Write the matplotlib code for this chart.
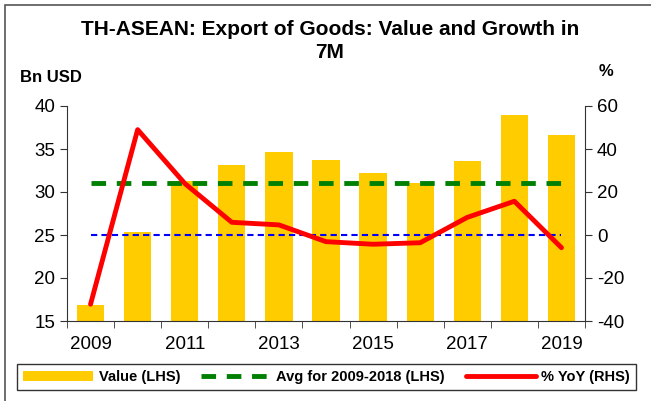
import matplotlib
matplotlib.use("Agg")
import matplotlib.pyplot as plt
from matplotlib.patches import Rectangle
import numpy as np

plt.rcParams['font.family'] = ['Liberation Sans', 'DejaVu Sans']
plt.rcParams['axes.unicode_minus'] = False

years = [2009, 2010, 2011, 2012, 2013, 2014, 2015, 2016, 2017, 2018, 2019]
value_bn = [16.9, 25.3, 31.3, 33.1, 34.7, 33.7, 32.2, 31.1, 33.6, 38.9, 36.6]
yoy_pct = [-32.2, 49.0, 24.0, 5.9, 4.7, -3.1, -4.3, -3.6, 8.2, 15.7, -5.9]
avg_2009_2018 = 31.1
tick_labels = ['2009', '', '2011', '', '2013', '', '2015', '', '2017', '', '2019']

fig = plt.figure(figsize=(6.51, 4.01), dpi=100)
# outer frame
fig.patches.append(Rectangle((5/651, -0.1), 1.2, 1 - 5/401 + 0.1, transform=fig.transFigure,
                             fill=False, edgecolor='#555555', lw=1.2, zorder=0))

ax = fig.add_axes([67/651, 1 - 321/401, (585 - 67)/651, (321 - 106)/401])
x = np.arange(len(years))
ax.bar(x, value_bn, width=0.58, color='#FFCC00', zorder=1, label='Value (LHS)')
ax.plot([x[0], x[-1]], [avg_2009_2018, avg_2009_2018], color='#008000', lw=3.5,
        dashes=(3, 2.2), zorder=3, label='Avg for 2009-2018 (LHS)')
ax.set_xlim(-0.5, len(years) - 0.5)
ax.set_ylim(15, 40)
ax.set_yticks([15, 20, 25, 30, 35, 40])
ax.set_xticks(x)
ax.set_xticklabels(tick_labels)
ax.set_xticks(np.arange(-0.5, len(years)), minor=True)
ax.tick_params(axis='x', which='major', length=0, labelsize=13.5, pad=11)
ax.tick_params(axis='x', which='minor', length=5, direction='out', color='#333333')
ax.tick_params(axis='y', length=5, direction='out', labelsize=13.5, color='#333333')
ax.spines['top'].set_visible(False)
ax.spines['right'].set_visible(False)
for s in ['left', 'bottom']:
    ax.spines[s].set_color('#333333')

ax2 = ax.twinx()
ax2.set_ylim(-40, 60)
ax2.set_yticks([-40, -20, 0, 20, 40, 60])
ax2.plot([x[0], x[-1]], [0, 0], color='#0000FF', lw=1.5, dashes=(3, 2), zorder=2)
ax2.plot(x, yoy_pct, color='#FF0000', lw=3.5, zorder=4, label='% YoY (RHS)', solid_capstyle='round')
ax2.tick_params(axis='y', length=5, direction='out', labelsize=13.5, color='#333333')
ax2.spines['top'].set_visible(False)
ax2.spines['left'].set_visible(False)
ax2.spines['bottom'].set_visible(False)
ax2.spines['right'].set_color('#333333')

fig.text(330/651, 1 - 41/401, 'TH-ASEAN: Export of Goods: Value and Growth in\n7M',
         ha='center', va='center', fontsize=15, fontweight='bold', linespacing=1.3)
fig.text(20/651, 1 - 78/401, 'Bn USD', ha='left', va='center', fontsize=12, fontweight='bold')
fig.text(606/651, 1 - 72/401, '%', ha='center', va='center', fontsize=12, fontweight='bold')

h1, l1 = ax.get_legend_handles_labels()
h2, l2 = ax2.get_legend_handles_labels()
handles = [h1[l1.index('Value (LHS)')], h1[l1.index('Avg for 2009-2018 (LHS)')], h2[0]]
labels = ['Value (LHS)', 'Avg for 2009-2018 (LHS)', '% YoY (RHS)']
leg = fig.legend(handles, labels, loc='lower left',
                 bbox_to_anchor=(17/651, 1 - 390/401, (636 - 17)/651, 28/401),
                 mode='expand', ncol=3, fancybox=False, framealpha=1,
                 edgecolor='#333333', prop={'weight': 'bold', 'size': 10.5},
                 handlelength=4.8, handletextpad=0.4, borderaxespad=0, columnspacing=1.0)
leg.get_frame().set_linewidth(1.0)

fig.savefig('out.png', dpi=100)
